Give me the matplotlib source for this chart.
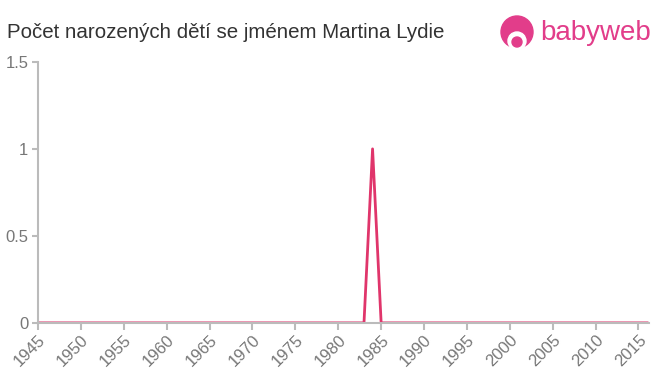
import matplotlib.pyplot as plt
from matplotlib.patches import Circle

plt.rcParams['font.family'] = ['Liberation Sans', 'DejaVu Sans']

years = list(range(1945, 2017))
counts = [0] * len(years)
counts[years.index(1984)] = 1

xticks = list(range(1945, 2016, 5))
yticks = [0, 0.5, 1, 1.5]
ylabels = ['0', '0.5', '1', '1.5']

fig = plt.figure(figsize=(6.6, 3.75), dpi=100)
ax = fig.add_axes([0.0576, 0.139, 0.9254, 0.696])
ax.plot(years, counts, color='#e0356b', linewidth=2)
ax.set_xlim(1945, 2016.2)
ax.set_ylim(0, 1.5)
ax.set_xticks(xticks)
ax.set_xticklabels([str(x) for x in xticks], rotation=45, ha='right', rotation_mode='anchor')
ax.set_yticks(yticks)
ax.set_yticklabels(ylabels)
ax.tick_params(axis='both', colors='#bbbbbb', labelcolor='#777777', labelsize=12, length=5, width=1.5)
ax.tick_params(axis='x', pad=2)
ax.tick_params(axis='y', pad=3, length=4)
for side in ['top', 'right']:
    ax.spines[side].set_visible(False)
for side in ['left', 'bottom']:
    ax.spines[side].set_color('#bbbbbb')
    ax.spines[side].set_linewidth(1.5)

fig.text(0.011, 1 - 32 / 375, 'Počet narozených dětí se jménem Martina Lydie', fontsize=14.8,
         color='#333333', va='center')

# logo (inch coordinates so the circles stay round)
def px(x, y):
    return (x / 100, (375 - y) / 100)

for (cx, cy), r, c in [((517, 32), 16, '#e23d8a'), ((517, 41), 9, 'white'), ((517, 42), 5, '#e23d8a')]:
    fig.add_artist(Circle(px(cx, cy), r / 100, transform=fig.dpi_scale_trans, color=c, zorder=5))
fig.text(540 / 660, 1 - 33 / 375, 'babyweb', fontsize=20, color='#e23d8a', va='center')

fig.savefig('out.png', dpi=100)
